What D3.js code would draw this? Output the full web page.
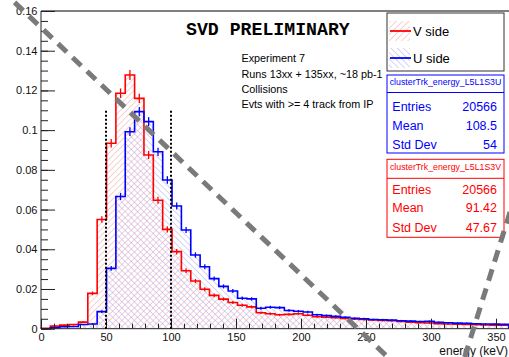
<!DOCTYPE html>
<html>
<head>
<meta charset="utf-8">
<script src="https://cdn.jsdelivr.net/npm/d3@7"></script>
<style>
  html, body { margin: 0; padding: 0; background: #fff; overflow: hidden; }
  text { font-family: "Liberation Sans", Arial, Helvetica, sans-serif; }
</style>
</head>
<body>
<svg id="chart" width="509" height="357"></svg>
<script>
// Histogram binning: 50 bins of 7.2 keV over 0..360 keV
const binWidth = 7.2;
const xDomain = [0, 360];
const yDomain = [0, 0.16];

// Normalised cluster energy, V side (red)
const vSide = [
  0.0002, 0.0013, 0.0018, 0.0021, 0.0033, 0.0178, 0.0550, 0.0934, 0.1186, 0.1278,
  0.1160, 0.0875, 0.0647, 0.0500, 0.0388, 0.0292, 0.0240, 0.0199, 0.0168, 0.0149,
  0.0132, 0.0118, 0.0110, 0.0080, 0.0075, 0.0070, 0.0072, 0.0075, 0.0068, 0.0060,
  0.0058, 0.0056, 0.0052, 0.0049, 0.0046, 0.0044, 0.0042, 0.0040, 0.0036, 0.0033,
  0.0030, 0.0029, 0.0025, 0.0024, 0.0023, 0.0022, 0.0020, 0.0019, 0.0018, 0.0017
];

// Normalised cluster energy, U side (blue)
const uSide = [
  0.0000, 0.0005, 0.0010, 0.0011, 0.0021, 0.0024, 0.0086, 0.0304, 0.0666, 0.0992,
  0.1093, 0.1043, 0.0891, 0.0749, 0.0618, 0.0497, 0.0371, 0.0312, 0.0252, 0.0213,
  0.0190, 0.0153, 0.0150, 0.0103, 0.0108, 0.0106, 0.0092, 0.0088, 0.0084, 0.0070,
  0.0066, 0.0062, 0.0058, 0.0052, 0.0050, 0.0046, 0.0045, 0.0043, 0.0040, 0.0038,
  0.0036, 0.0037, 0.0032, 0.0030, 0.0028, 0.0027, 0.0025, 0.0024, 0.0023, 0.0022
];

const entries = 20566;

const xTicks = [0, 50, 100, 150, 200, 250, 300, 350];
const xTickLabels = ["0", "50", "100", "150", "200", "250", "300", "350"];
const xMinorTicks = d3.range(0, 361, 10);
const yTicks = [0, 0.02, 0.04, 0.06, 0.08, 0.1, 0.12, 0.14, 0.16];
const yTickLabels = ["0", "0.02", "0.04", "0.06", "0.08", "0.1", "0.12", "0.14", "0.16"];
const yMinorTicks = d3.range(0, 0.1601, 0.005);

// Energy window cuts (keV) and their drawn height
const cutEnergies = [50, 100];
const cutHeight = 0.11;

// Grey dashed guides, endpoints in (keV, value)
const guideLines = [
  [[-31.5, 0.1713], [266.7, -0.0143]],
  [[325.9, -0.0143], [363.7, 0.0648]]
];

const infoLines = ["Experiment 7", "Runs 13xx + 135xx, ~18 pb-1", "Collisions", "Evts with >= 4 track from IP"];
const legendNames = ["V side", "U side"];
const statNames = ["Entries", "Mean", "Std Dev"];
const statsU = ["20566", "108.5", "54"];
const statsV = ["20566", "91.42", "47.67"];

const RED = "#ff0000", BLUE = "#0000ff";

const svg = d3.select("#chart");
const x = d3.scaleLinear(xDomain, [41, 509]);
const y = d3.scaleLinear(yDomain, [328.7, 11]);

// Hatch patterns
const defs = svg.append("defs");
function hatch(id, color, angle) {
  const p = defs.append("pattern")
    .attr("id", id).attr("patternUnits", "userSpaceOnUse")
    .attr("width", 4.4).attr("height", 4.4)
    .attr("patternTransform", `rotate(${angle})`);
  p.append("line").attr("x1", 0).attr("y1", -1).attr("x2", 0).attr("y2", 6)
    .attr("stroke", color).attr("stroke-width", 1);
}
hatch("hatchV", "#f5a0a0", 45);
hatch("hatchU", "#a8a8f0", -45);

function stepPoints(values) {
  const pts = [[xDomain[0], 0]];
  values.forEach((v, i) => { pts.push([i * binWidth, v], [(i + 1) * binWidth, v]); });
  pts.push([values.length * binWidth, 0]);
  return pts;
}
const line = d3.line().x(d => x(d[0])).y(d => y(d[1]));

// Fills
svg.append("path").attr("d", line(stepPoints(vSide)) + "Z").attr("fill", "url(#hatchV)");
svg.append("path").attr("d", line(stepPoints(uSide)) + "Z").attr("fill", "url(#hatchU)");

// Outlines with statistical error bars
function drawHist(values, color) {
  svg.append("path").attr("d", line(stepPoints(values)))
    .attr("fill", "none").attr("stroke", color).attr("stroke-width", 1.6);
  svg.append("g").selectAll("line").data(values).join("line")
    .attr("x1", (d, i) => x((i + 0.5) * binWidth))
    .attr("x2", (d, i) => x((i + 0.5) * binWidth))
    .attr("y1", d => y(d + Math.sqrt(d / entries)))
    .attr("y2", d => y(Math.max(0, d - Math.sqrt(d / entries))))
    .attr("stroke", color).attr("stroke-width", 1.3);
}
drawHist(vSide, RED);
drawHist(uSide, BLUE);

// Frame
svg.append("line").attr("x1", x(0)).attr("x2", 509).attr("y1", y(0.16)).attr("y2", y(0.16))
  .attr("stroke", "#000").attr("stroke-width", 1);

// X axis
const xAxis = svg.append("g").attr("transform", `translate(0,${y(0)})`)
  .call(d3.axisBottom(x).tickValues(xTicks).tickSize(-10).tickPadding(5)
    .tickFormat((d, i) => xTickLabels[i]));
svg.append("g").attr("transform", `translate(0,${y(0)})`)
  .call(d3.axisBottom(x).tickValues(xMinorTicks).tickSize(-5).tickFormat(""))
  .select(".domain").remove();

// Y axis
const yAxis = svg.append("g").attr("transform", `translate(${x(0)},0)`)
  .call(d3.axisLeft(y).tickValues(yTicks).tickSize(-14).tickPadding(3.5)
    .tickFormat((d, i) => yTickLabels[i]));
svg.append("g").attr("transform", `translate(${x(0)},0)`)
  .call(d3.axisLeft(y).tickValues(yMinorTicks).tickSize(-7).tickFormat(""))
  .select(".domain").remove();

svg.selectAll(".tick text").attr("font-family", "Liberation Sans, Arial, sans-serif")
  .attr("font-size", 11).attr("fill", "#111");
svg.selectAll(".domain, .tick line").attr("stroke", "#222");
xAxis.select(".domain").attr("d", `M${x(0)},0H509`);
yAxis.select(".domain").attr("d", `M0,${y(0.16)}V${y(0)}`);

svg.append("text").attr("x", 508).attr("y", 355).attr("text-anchor", "end")
  .attr("font-size", 12).attr("fill", "#111").text("energy (keV)");

// Energy window cuts
svg.append("g").selectAll("line").data(cutEnergies).join("line")
  .attr("x1", d => x(d)).attr("x2", d => x(d))
  .attr("y1", y(0)).attr("y2", y(cutHeight))
  .attr("stroke", "#000").attr("stroke-width", 2).attr("stroke-dasharray", "2,2");

// Titles
svg.append("text").attr("x", 186).attr("y", 35)
  .style("font-family", "'Liberation Mono', 'DejaVu Sans Mono', monospace")
  .attr("font-weight", "bold").attr("font-size", 18.2).attr("fill", "#000")
  .text("SVD PRELIMINARY");

svg.append("g").selectAll("text").data(infoLines).join("text")
  .attr("x", 241.5).attr("y", (d, i) => 62.3 + i * 15.2)
  .attr("font-size", 10.8).attr("fill", "#000").text(d => d);

// Legend
const lg = svg.append("g");
lg.append("rect").attr("x", 387).attr("y", 13).attr("width", 117).attr("height", 58)
  .attr("fill", "#fff").attr("stroke", "#333").attr("stroke-width", 1);
[[RED, "url(#hatchV)", 31], [BLUE, "url(#hatchU)", 58]].forEach(([c, f, cy], i) => {
  lg.append("rect").attr("x", 389).attr("y", cy - 10).attr("width", 21).attr("height", 20).attr("fill", f);
  lg.append("line").attr("x1", 390).attr("x2", 411).attr("y1", cy).attr("y2", cy)
    .attr("stroke", c).attr("stroke-width", 1.8);
  lg.append("text").attr("x", 413).attr("y", cy + 4.6).attr("font-size", 13)
    .attr("fill", "#000").text(legendNames[i]);
});

// Statistics boxes
function statBox(top, color, title, values, sepY, rows) {
  const g = svg.append("g");
  g.append("rect").attr("x", 387).attr("y", top).attr("width", 117).attr("height", 78)
    .attr("fill", "#fff").attr("stroke", color).attr("stroke-width", 1);
  g.append("text").attr("x", 445.5).attr("y", top + 10.2).attr("text-anchor", "middle")
    .attr("font-size", 8.8).attr("fill", color).text(title);
  g.append("line").attr("x1", 387).attr("x2", 504).attr("y1", sepY).attr("y2", sepY)
    .attr("stroke", color).attr("stroke-width", 1);
  statNames.forEach((n, i) => {
    g.append("text").attr("x", 392.3).attr("y", rows[i] + 4.5)
      .attr("font-size", 12.5).attr("fill", color).text(n);
    g.append("text").attr("x", 497).attr("y", rows[i] + 4.5).attr("text-anchor", "end")
      .attr("font-size", 12.5).attr("fill", color).text(values[i]);
  });
}
statBox(75, BLUE, "clusterTrk_energy_L5L1S3U", statsU, 92.5, [106, 125, 144.3]);
statBox(159.3, RED, "clusterTrk_energy_L5L1S3V", statsV, 178.3, [189, 207.7, 227.3]);

// Grey dashed guides
svg.append("g").selectAll("line").data(guideLines).join("line")
  .attr("x1", d => x(d[0][0])).attr("y1", d => y(d[0][1]))
  .attr("x2", d => x(d[1][0])).attr("y2", d => y(d[1][1]))
  .attr("stroke", "#7a7a7a").attr("stroke-width", 5).attr("stroke-dasharray", "12,8");
</script>
</body>
</html>
